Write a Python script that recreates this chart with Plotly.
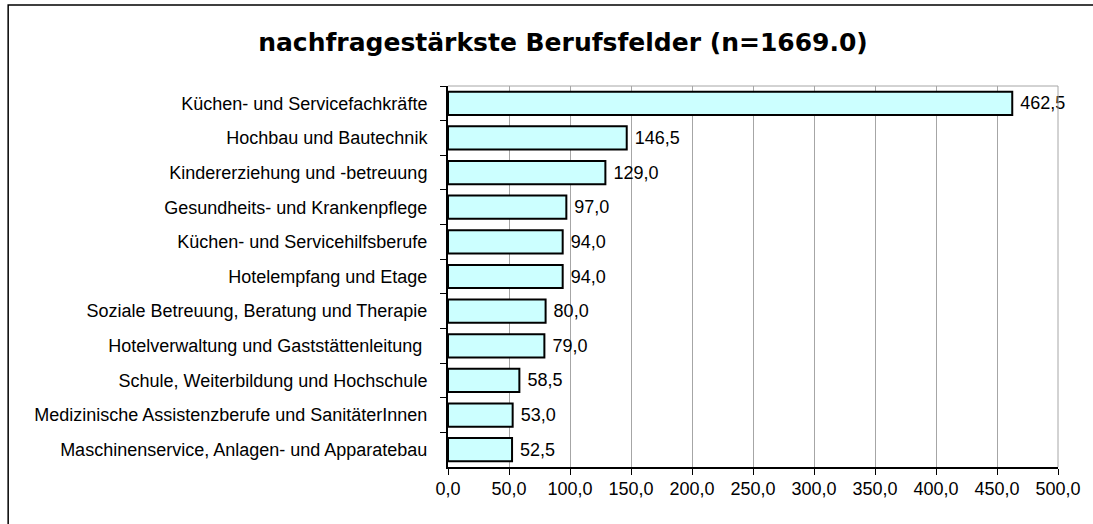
import plotly.graph_objects as go

categories = [
    "Küchen- und Servicefachkräfte",
    "Hochbau und Bautechnik",
    "Kindererziehung und -betreuung",
    "Gesundheits- und Krankenpflege",
    "Küchen- und Servicehilfsberufe",
    "Hotelempfang und Etage",
    "Soziale Betreuung, Beratung und Therapie",
    "Hotelverwaltung und Gaststättenleitung ",
    "Schule, Weiterbildung und Hochschule",
    "Medizinische Assistenzberufe und SanitäterInnen",
    "Maschinenservice, Anlagen- und Apparatebau",
]
values = [462.5, 146.5, 129.0, 97.0, 94.0, 94.0, 80.0, 79.0, 58.5, 53.0, 52.5]
x_ticks = [0, 50, 100, 150, 200, 250, 300, 350, 400, 450, 500]

W, H = 1093, 524
L, R, T, B = 448, 1061, 86, 467

FONT = "Liberation Sans, Arial"

fig = go.Figure()
fig.add_trace(go.Bar(
    x=values, y=categories, orientation="h",
    marker=dict(color="#CCFFFF", line=dict(color="black", width=2)),
    text=values, texttemplate=" %{x:.1f}", textposition="outside",
    textfont=dict(family=FONT, size=18, color="black"),
    cliponaxis=False, width=0.67,
))

pw = R - L
ph = B - T
def px(xp):
    return (xp - L) / pw
def py(yp):
    return (B - yp) / ph

fig.update_layout(
    width=W, height=H,
    margin=dict(l=L, r=W - R, t=T, b=H - B, pad=0),
    paper_bgcolor="white", plot_bgcolor="white",
    separators=",.",
    showlegend=False,
    font=dict(family=FONT, size=18, color="black"),
    title=dict(
        text="<b>nachfragestärkste Berufsfelder (n=1669.0)</b>",
        font=dict(family="DejaVu Sans, Verdana", size=25, color="black"),
        x=563 / W, xanchor="center", xref="container",
        y=1 - 42 / H, yanchor="middle", yref="container",
    ),
    xaxis=dict(
        range=[0, 500], tickvals=x_ticks, tickformat=".1f",
        showgrid=True, gridcolor="#A6A6A6", gridwidth=1,
        showline=True, linecolor="black", linewidth=2,
        ticks="outside", ticklen=6, tickcolor="black", tickwidth=1,
        zeroline=False, fixedrange=True,
        ticklabelstandoff=-2,
        tickfont=dict(family=FONT, size=18),
    ),
    yaxis=dict(
        autorange="reversed", type="category",
        showline=True, linecolor="black", linewidth=2,
        ticks="outside", ticklen=6, tickcolor="black", tickwidth=1,
        tickson="boundaries", showgrid=False, fixedrange=True,
        ticklabelstandoff=15,
        tickfont=dict(family=FONT, size=18),
    ),
    shapes=[
        dict(type="line", xref="paper", yref="paper", x0=0, x1=1, y0=1, y1=1,
             line=dict(color="#A6A6A6", width=1)),
        dict(type="line", xref="paper", yref="paper", x0=1, x1=1, y0=0, y1=1,
             line=dict(color="#A6A6A6", width=1)),
        dict(type="rect", xref="paper", yref="paper",
             x0=px(6), x1=px(1300), y0=py(700), y1=py(5),
             line=dict(color="black", width=1.5), fillcolor="rgba(0,0,0,0)",
             layer="above"),
    ],
)

fig.write_html(
    "out.html",
    config={"displayModeBar": False},
    post_script="document.body.style.margin='0';document.body.style.overflow='hidden';",
)
